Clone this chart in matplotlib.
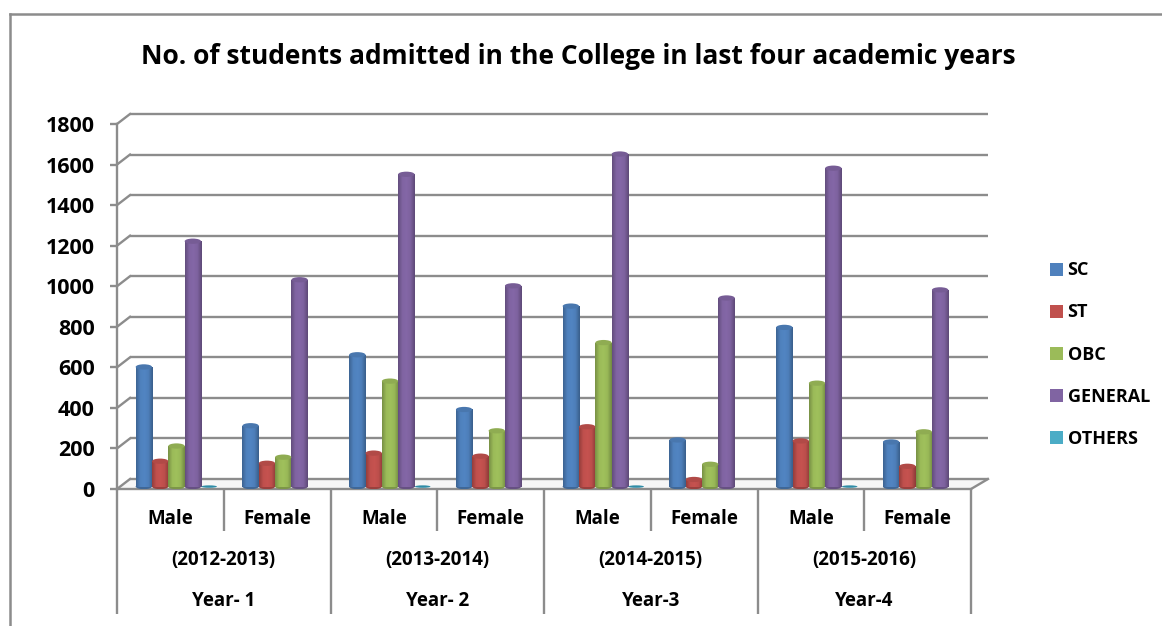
import numpy as np
import matplotlib
matplotlib.use('Agg')
import matplotlib.pyplot as plt
from matplotlib.colors import LinearSegmentedColormap
from matplotlib.lines import Line2D
from matplotlib.patches import Ellipse, Patch, Polygon
from matplotlib.transforms import Affine2D

plt.rcParams['font.family'] = ['Open Sans', 'DejaVu Sans']
plt.rcParams['font.weight'] = 'bold'

#------------------------------
# values
#------------------------------
genders = ['Male', 'Female'] * 4
sessions = ['(2012-2013)', '(2013-2014)', '(2014-2015)', '(2015-2016)']
years = ['Year- 1', 'Year- 2', 'Year-3', 'Year-4']
yticks = list(range(0, 2000, 200))

series = ['SC', 'ST', 'OBC', 'GENERAL', 'OTHERS']
sc = [590, 300, 650, 380, 890, 230, 785, 220]
st = [125, 115, 165, 150, 295, 35, 225, 100]
obc = [200, 145, 520, 275, 710, 110, 510, 270]
general = [1210, 1020, 1540, 990, 1640, 930, 1570, 970]
others = [4, 0, 4, 0, 4, 0, 4, 0]

colors = ['#4F81BD', '#C0504D', '#9BBB59', '#8064A2', '#4BACC6']
gray = '#8C8C8C'

W, H = 1162, 626
fig = plt.figure(figsize=(W/100, H/100), dpi=100)

# axes box in pixels: x 117-971, y 124-489 (from top)
ax = fig.add_axes([117/W, 1-489/H, (971-117)/W, (489-124)/H])
ax.set_xlim(0, 8)
ax.set_ylim(0, 1800)
ax.patch.set_visible(False)

dx, dy = 13, 10    # depth of the fake 3d wall [px]
dx_right = 17      # the right end of the floor leans a bit more
back = ax.transData + Affine2D().translate(dx, dy)

#--------------------------------
# wall and floor
#--------------------------------
floor_front = ax.transData.transform([(0, 0), (8, 0)])
floor_pts = [floor_front[0], floor_front[1], floor_front[1]+[dx_right, dy], floor_front[0]+[dx, dy]]
fig.add_artist(Polygon(floor_pts, closed=True, transform=None, fc='#F6F6F6', ec='none', zorder=-2))

for v in yticks:
    ax.plot([0, 8+(dx_right-dx)*8/854], [v, v], color=gray, lw=1.7, transform=back, clip_on=False, zorder=1,
            solid_capstyle='butt')
    p = ax.transData.transform((0, v))
    fig.add_artist(Line2D([p[0], p[0]+dx], [p[1], p[1]+dy], transform=None, color=gray, lw=1.7, zorder=-1))
p = ax.transData.transform((8, 0))
fig.add_artist(Line2D([p[0], p[0]+dx_right], [p[1], p[1]+dy], transform=None, color=gray, lw=1.7, zorder=-1))

#--------------------------------
# cylinders
#--------------------------------
values = [sc, st, obc, general, others]
bar_w = 0.153
cap_h = 26.0
lift = 12      # bars stand a little behind the front edge of the floor
start = 0.175
for i, (vals, col) in enumerate(zip(values, colors)):
    base = np.array(matplotlib.colors.to_rgb(col))
    cmap = LinearSegmentedColormap.from_list('c', [base*0.78, base, base*1.03, base*0.98, base*0.74])
    grad = np.linspace(0, 1, 32).reshape(1, -1)
    for c, v in enumerate(vals):
        x0 = c + start + i*bar_w
        if i == 4:
            if v > 0:
                ax.add_patch(Ellipse((x0+bar_w/2, lift), bar_w*0.95, 12, fc='#2F8CA6', ec='none', zorder=5))
            continue
        ax.imshow(grad, extent=[x0, x0+bar_w, lift, v+lift], cmap=cmap, aspect='auto', zorder=4,
                  vmin=0, vmax=1, interpolation='bilinear')
        ax.add_patch(Ellipse((x0+bar_w/2, lift), bar_w, cap_h, fc=base*0.8, ec='none', zorder=3.5))
        ax.add_patch(Ellipse((x0+bar_w/2, v+lift), bar_w, cap_h, fc=base*0.92, ec='none', zorder=5))
ax.set_xlim(0, 8)
ax.set_ylim(0, 1800)

#--------------------------------
# axes and the three rows of labels
#--------------------------------
for s in ['top', 'right']:
    ax.spines[s].set_visible(False)
for s in ['left', 'bottom']:
    ax.spines[s].set_color(gray)
    ax.spines[s].set_linewidth(1.7)
ax.set_xticks([])
ax.set_yticks(yticks)
ax.tick_params(axis='y', length=5, width=1.7, color=gray, pad=11, labelsize=15.5)

def below(px):
    # pixels under the axis converted to data units
    return -px*1800/(489-124)

for c in range(9):
    long_line = c % 2 == 0
    ax.plot([c, c], [0, below(125 if long_line else 42)], color=gray, lw=1.7, clip_on=False,
            solid_capstyle='butt', zorder=2)
for c, g in enumerate(genders):
    ax.text(c+0.5, below(30), g, ha='center', va='center', fontsize=13.5, color='black')
for k in range(4):
    ax.text(2*k+1, below(71), sessions[k], ha='center', va='center', fontsize=13.5, color='black')
    ax.text(2*k+1, below(112), years[k], ha='center', va='center', fontsize=13.5, color='black')

#--------------------------------
# title, legend, outer frame
#--------------------------------
fig.text(578/W, 1-56/H, 'No. of students admitted in the College in last four academic years',
         ha='center', va='center', fontsize=19, color='black')

handles = [Patch(fc=c, ec='none', label=s) for c, s in zip(colors, series)]
fig.legend(handles=handles, loc='center left', bbox_to_anchor=(1034/W, 1-354.5/H), frameon=False,
           fontsize=13, labelspacing=1.33, handlelength=0.72, handleheight=0.72, handletextpad=0.24)

fig.add_artist(Line2D([9.5/W, 9.5/W], [0, 1-14/H], color=gray, lw=1.8))
fig.add_artist(Line2D([9.5/W, 1], [1-14/H, 1-14/H], color=gray, lw=1.8))

fig.savefig('out.png', dpi=100)
